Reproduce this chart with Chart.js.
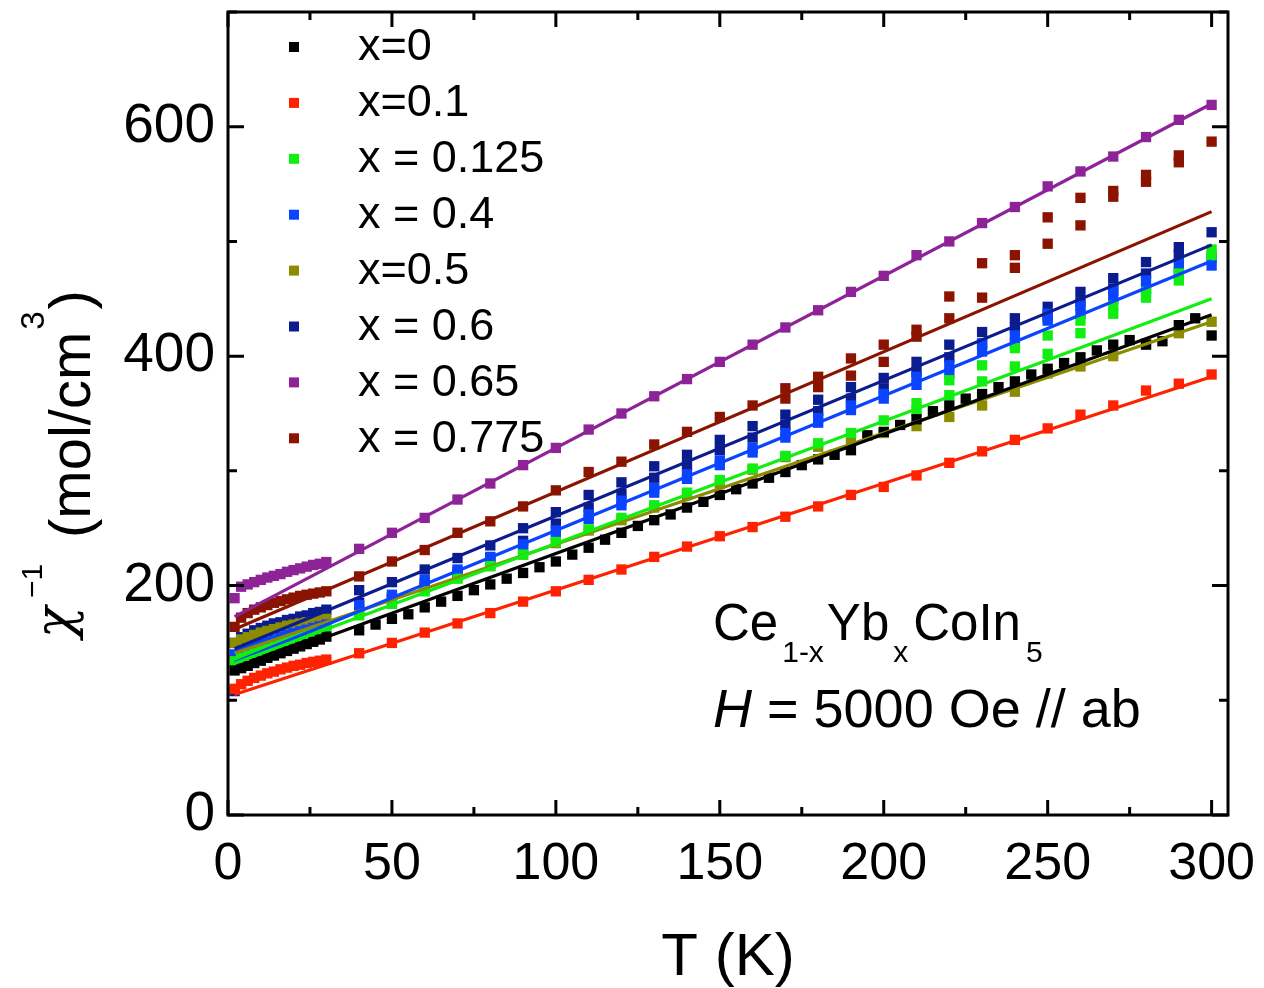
<!DOCTYPE html>
<html><head><meta charset="utf-8">
<script src="https://cdn.jsdelivr.net/npm/chart.js@4/dist/chart.umd.min.js"></script>
<style>html,body{margin:0;padding:0;background:#fff;overflow:hidden}</style>
</head><body>
<canvas id="c" width="1264" height="988"></canvas>
<script>
// ---------- data ----------
const seriesNames = ['x=0','x=0.1','x = 0.125','x = 0.4','x=0.5','x = 0.6','x = 0.65','x = 0.775'];
const seriesColors = ['#000000','#ff2200','#11ee11','#0b44ff','#8c8c00','#0a1c8e','#8e2398','#8a1400'];

const xTicks = [0,50,100,150,200,250,300];
const yTicks = [0,200,400,600];

const tLow  = [2,4,6,8,10,12,14,16,18,20,22,24,26,28,30];
const tHigh = [40,50,60,70,80,90,100,110,120,130,140,150,160,170,180,190,200,210,220,230,240,250,260,270,280,290,300];
const tBlack = [40,45,50,55,60,65,70,75,80,85,90,95,100,105,110,115,120,125,130,135,140,145,150,155,160,165,170,175,180,185,190,195,200,205,210,215,220,225,230,235,240,245,250,255,260,265,270,275,280,285,290,295,300];
const fitT = [2,300];

// x = 0
const x0Low  = [126,128,130,132.5,134.5,137,139,141,143,145,147,149,151,153,155.5];
const x0High = [161,166,171,175,181,186,191,196,201,206,211,216,221,227,233,240,246,252,257,262,268,273,279,284,289,294,299,305,310,314,318,331,334,340,345,352,357,363,367,373,378,384,389,394,399,405,410,414,410,413,427,433,418];
const x0Fit  = [126,436];
// x = 0.1
const x01Low  = [110,114,117,119.5,121.5,123.5,125,127,128.5,130,131,132.5,133.5,134.5,135.5];
const x01High = [141,150,159,167,176,186,195,205,214,225,234,243,251,260,269,279,286,296,307,317,327,337,349,357,370,376,384];
const x01Fit  = [105,382];
// x = 0.125
const x0125Low   = [134,137,139,141,143,145,147,149,151,153,155,157,159,161,162];
const x0125HighA = [174,184,195,206,217,227,238,249,259,270,281,292,302,313,324,333,344,359,379,392,407,418,431,444,456,472,493];
const x0125HighB = [null,null,null,null,null,null,null,null,null,null,null,null,null,null,null,null,null,352,366,378,391,402,420,437,451,466,488];
const x0125Fit   = [132,450];
// x = 0.4
const x04Low   = [140,143,145,147,149,151,153,155,157,158.5,160,161.5,163,164.5,166];
const x04HighA = [183,192,205,214,225,236,248,262,274,285,297,309,320,333,346,357,367,382,392,411,418,437,444,457,466,481,486];
const x04HighB = [178,188,199,210,222,232,244,258,270,281,293,305,316,329,342,353,363,375,385,404,411,431,437,450,459,473,479];
const x04Fit   = [133,483];
// x = 0.5
const x05Low  = [150,153,155,157,159,160.5,162,163.5,165,166,167,168,169,170,171];
const x05High = [178,188,198,208,217,227,237,248,257,268,279,289,301,312,321,326,333,339,347,357,369,385,391,400,411,420,430];
const x05Fit  = [141,430];
// x = 0.6
const x06Low   = [150,155,158,161,163,165,167,168,170,171,173,174,176,177,179];
const x06HighA = [196,203,214,224,235,250,264,279,290,304,314,327,339,349,362,373,381,395,410,421,433,443,456,468,482,495,508];
const x06HighB = [185,190,202,212,224,239,254,268,280,294,305,318,329,340,352,363,372,386,399,411,425,434,447,459,472,488,null];
const x06ExtraT = [2];
const x06ExtraV = [108];
const x06Fit   = [145,497];
// x = 0.65
const x065Low  = [189,199,201,203,205,207,208.5,210,212,213.5,215,216.5,218,219,220.5];
const x065High = [232,246,259,275,289,305,320,336,350,365,380,395,410,425,440,456,470,488,500,516,530,548,561,574,591,606,619];
const x065Fit  = [173,620];
// x = 0.775
const x0775Low   = [164,172,176,179,181,183,185,186.5,188,189.5,191,192,193,194,195];
const x0775HighA = [208,221,231,246,256,269,283,299,308,323,334,347,357,372,382,398,410,423,452,481,488,521,538,544,558,575,587];
const x0775HighB = [null,null,null,null,null,null,null,null,null,null,null,null,null,363,373,383,395,417,433,451,477,498,514,539,552,569,null];
const x0775Fit   = [162,526];

// ---------- build ----------
function pts(ts, vs){ const o=[]; ts.forEach((t,i)=>{ if(vs[i]!=null) o.push({x:t,y:vs[i]}); }); return o; }

const scatterSets = [
  [...pts(tLow,x0Low), ...pts(tBlack,x0High)],
  [...pts(tLow,x01Low), ...pts(tHigh,x01High)],
  [...pts(tLow,x0125Low), ...pts(tHigh,x0125HighA), ...pts(tHigh,x0125HighB)],
  [...pts(tLow,x04Low), ...pts(tHigh,x04HighA), ...pts(tHigh,x04HighB)],
  [...pts(tLow,x05Low), ...pts(tHigh,x05High)],
  [...pts(x06ExtraT,x06ExtraV), ...pts(tLow,x06Low), ...pts(tHigh,x06HighA), ...pts(tHigh,x06HighB)],
  [...pts(tLow,x065Low), ...pts(tHigh,x065High)],
  [...pts(tLow,x0775Low), ...pts(tHigh,x0775HighA), ...pts(tHigh,x0775HighB)]
];
const fits = [x0Fit,x01Fit,x0125Fit,x04Fit,x05Fit,x06Fit,x065Fit,x0775Fit];

const datasets = [];
scatterSets.forEach((d,i)=>{
  datasets.push({type:'scatter', label:seriesNames[i], data:d, showLine:false,
    pointStyle:'rect', pointRadius:7.3, pointHoverRadius:7.3, pointBorderWidth:0,
    backgroundColor:seriesColors[i], borderColor:seriesColors[i], order:2});
});
fits.forEach((f,i)=>{
  datasets.push({type:'line', label:seriesNames[i]+' fit', data:pts(fitT,f), showLine:true,
    pointRadius:0, borderWidth:3.2, borderColor:seriesColors[i], backgroundColor:seriesColors[i], fill:false, order:1});
});

const FONT = '"Liberation Sans", Arial, sans-serif';

const deco = {
  id:'deco',
  afterDraw(chart){
    const {ctx, chartArea:a, scales:{x,y}} = chart;
    ctx.save();
    ctx.strokeStyle='#000'; ctx.lineWidth=3; ctx.lineCap='butt';
    ctx.strokeRect(a.left, a.top, a.right-a.left, a.bottom-a.top);
    ctx.beginPath();
    for (let t=0; t<=300; t+=25){
      const px = x.getPixelForValue(t), L = (t%50===0)?15:8;
      ctx.moveTo(px,a.bottom); ctx.lineTo(px,a.bottom-L);
      ctx.moveTo(px,a.top); ctx.lineTo(px,a.top+L);
    }
    for (let v=0; v<=700; v+=100){
      const py = y.getPixelForValue(v), L = (v%200===0)?16:9;
      ctx.moveTo(a.left,py); ctx.lineTo(a.left+L,py);
      ctx.moveTo(a.right,py); ctx.lineTo(a.right-L,py);
    }
    ctx.stroke();

    // legend
    ctx.textAlign='left'; ctx.textBaseline='middle';
    ctx.font = `45px ${FONT}`;
    seriesNames.forEach((n,i)=>{
      const ry = 47 + i*55.9;
      ctx.fillStyle = seriesColors[i];
      ctx.fillRect(289, ry-5, 10, 10);
      ctx.fillStyle = '#000';
      ctx.fillText(n, 358, ry+1);
    });

    // annotation
    ctx.textBaseline='alphabetic';
    let xx = 713;
    const part = (s, size, base, style='') => { ctx.font = `${style}${size}px ${FONT}`; ctx.fillText(s, xx, base); xx += ctx.measureText(s).width; };
    part('Ce',51,640); xx+=4; part('1-x',30,662); xx+=3; part('Yb',51,640); xx+=4; part('x',30,662); xx+=5; part('CoIn',51,640); xx+=5; part('5',30,662);
    xx = 713;
    part('H',54,727,'italic '); part(' = 5000 Oe // ab',54,727);

    // x title
    ctx.textAlign='center'; ctx.font = `60px ${FONT}`;
    ctx.fillText('T (K)', (a.left+a.right)/2, 975);

    // y title
    ctx.save();
    ctx.translate(90, 640); ctx.rotate(-Math.PI/2);
    ctx.textAlign='left';
    ctx.font = `italic 52px "DejaVu Serif", serif`; ctx.fillText('χ', 2, -18);
    ctx.font = `30px ${FONT}`; ctx.fillText('−1', 42, -48);
    ctx.font = `58px ${FONT}`; ctx.fillText('(mol/cm', 102, 0);
    let w = ctx.measureText('(mol/cm').width;
    ctx.font = `33px ${FONT}`; ctx.fillText('3', 104+w, -46);
    let w3 = ctx.measureText('3').width;
    ctx.font = `58px ${FONT}`; ctx.fillText(')', 106+w+w3, 0);
    ctx.restore();
    ctx.restore();
  }
};

new Chart(document.getElementById('c'), {
  data:{datasets},
  options:{
    responsive:false, animation:false, devicePixelRatio:1,
    layout:{padding:{top:12,right:36,left:0,bottom:0}},
    plugins:{legend:{display:false}, tooltip:{enabled:false}},
    scales:{
      x:{type:'linear', min:0, max:305,
        grid:{display:false, drawTicks:false}, border:{display:false},
        afterFit:s=>{s.height=173; s.paddingLeft=0; s.paddingRight=0;},
        afterBuildTicks:s=>{s.ticks = xTicks.map(v=>({value:v}));},
        ticks:{font:{size:52, family:FONT}, color:'#000', padding:18, maxRotation:0, autoSkip:false}},
      y:{type:'linear', min:0, max:700,
        grid:{display:false, drawTicks:false}, border:{display:false},
        afterFit:s=>{s.width=228; s.paddingTop=0; s.paddingBottom=0;},
        afterBuildTicks:s=>{s.ticks = yTicks.map(v=>({value:v}));},
        ticks:{font:{size:55, family:FONT}, color:'#000', padding:13, autoSkip:false}}
    }
  },
  plugins:[deco]
});
</script>
</body></html>
